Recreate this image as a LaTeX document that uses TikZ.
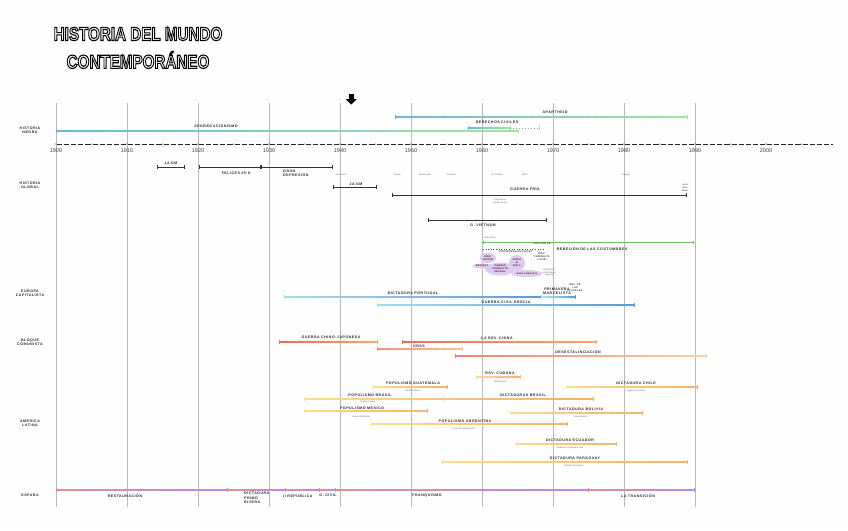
\documentclass[tikz,border=0pt]{standalone}
\usepackage{fontspec}
\setmainfont{Liberation Sans}
\newfontfamily\labfont{Liberation Sans}[LetterSpace=14]
\usetikzlibrary{arrows.meta,shapes.geometric}
\definecolor{nblue}{HTML}{6BB7D9}
\definecolor{ngreen}{HTML}{A6E3A1}
\definecolor{ecyan}{HTML}{A6DDEA}
\definecolor{eblue}{HTML}{5B9BD5}
\definecolor{cred}{HTML}{EE6B5E}
\definecolor{corange}{HTML}{F5A96B}
\definecolor{lyellow}{HTML}{FDDC8E}
\definecolor{lorange}{HTML}{F5B26B}
\definecolor{spink}{HTML}{F08A8A}
\definecolor{spurple}{HTML}{B08CF2}
\definecolor{lav}{HTML}{DCCDF0}
\definecolor{rgreen}{HTML}{6DBE5A}
\newcommand\tlbar[5]{%
  \shade[left color=#4,right color=#5] (#1,#3-0.55) rectangle (#2,#3+0.55);
  \fill[#4] (#1-0.35,#3-1.8) rectangle (#1+0.35,#3+1.8);
  \fill[#5] (#2-0.35,#3-1.8) rectangle (#2+0.35,#3+1.8);}
\newcommand\outlinetext[1]{\special{pdf:literal direct 1 Tr 1.1 w}#1\special{pdf:literal direct 0 Tr}}
\tikzset{
  lab/.style={font=\labfont\bfseries\fontsize{3.6}{4.4}\selectfont, inner sep=0pt, align=center, text=black!85},
  tiny/.style={font=\fontsize{2.3}{2.9}\selectfont, inner sep=0pt, text=black!60, align=center},
  tinyb/.style={font=\labfont\bfseries\fontsize{2.4}{2.9}\selectfont, inner sep=0pt, text=black!80, align=center},
  yr/.style={font=\fontsize{5.5}{6}\selectfont, inner sep=0pt, text=black!75},
  gl/.style={black!80, line width=0.7pt, {Bar[width=3.5pt,line width=0.7pt]}-{Bar[width=3.5pt,line width=0.7pt]}},
  bub/.style={ellipse, fill=lav, inner sep=0.6pt, font=\labfont\bfseries\fontsize{2.4}{2.9}\selectfont, text=purple!45!black, align=center},
  ttl/.style={font=\bfseries\fontsize{19}{20}\selectfont, inner sep=0pt, text=black},
  vline/.style={gray!55, line width=0.8pt}
}
\begin{document}
\begin{tikzpicture}[x=1pt,y=-1pt]
\useasboundingbox (0,0) rectangle (848,530);
\fill[white] (0,0) rectangle (848,530);
% dotted background
\foreach \yy in {3,11,...,531}
  \draw[gray!22, line width=0.5pt, dash pattern=on 0.5pt off 7.5pt] (3,\yy) -- (848,\yy);

% title
\node[ttl] (t1) at (138,34) {\outlinetext{\scalebox{0.8}[1]{HISTORIA DEL MUNDO}}};
\node[ttl] (t2) at (138,60) {\outlinetext{\scalebox{0.8}[1]{CONTEMPORÁNEO}}};

% down arrow
\fill[black] (349,94) rectangle (353.5,99.5);
\fill[black] (345.5,99) -- (357,99) -- (351.25,104.5) -- cycle;

% vertical decade lines
\foreach \k in {0,...,9}
  \draw[vline] (56+71*\k,103) -- (56+71*\k,507);

% axis
\draw[black!85, line width=0.9pt, dash pattern=on 5.1pt off 2pt, dash phase=-1pt] (56,144) -- (833,144);
\foreach \k in {0,...,10} \fill[red!70] (56+71*\k,144) circle[radius=0.9pt];
\foreach \k in {0,...,10} \fill[orange!70] (91.5+71*\k,144) circle[radius=0.9pt];
\foreach \k/\l in {0/1900,1/1910,2/1920,3/1930,4/1940,5/1950,6/1960,7/1970,8/1980,9/1990,10/2000}
  \node[yr] (y\l) at (56+71*\k,151) {\l};

% row labels
\node[lab] (r1) at (30,130) {HISTORIA\\NEGRA};
\node[lab] (r2) at (30,185) {HISTORIA\\GLOBAL};
\node[lab] (r3) at (30,293) {EUROPA\\CAPITALISTA};
\node[lab] (r4) at (30,342) {BLOQUE\\COMUNISTA};
\node[lab] (r5) at (30,423.5) {AMERICA\\LATINA};
\node[lab] (r6) at (30,495) {ESPAÑA};

% historia negra
\tlbar{56}{518}{131}{nblue}{ngreen}
\node[lab] (seg) at (216,126) {SEGREGACIONISMO};
\tlbar{395}{687}{117}{nblue}{ngreen}
\node[lab] (apa) at (555,112) {APARTHEID};
\tlbar{468}{510}{128}{nblue}{ngreen}
\draw[ngreen!80!black, line width=1pt, dotted] (510,128) -- (539,128);
\fill[ngreen] (538.7,126.2) rectangle (539.3,129.8);
\node[lab] (dc) at (497,122) {DERECHOS CIVILES};

% historia global
\draw[gl] (157,167) -- (185,167);
\node[lab] (g1) at (171,163) {1A GM};
\draw[gl] (199,167) -- (261,167);
\draw[gl] (261,167) -- (333,167);
\node[lab] (g2) at (236,173) {FELICES 20'S};
\node[lab, anchor=west, align=left] (g3) at (283,173.5) {GRAN\\DEPRESIÓN};
\draw[gl] (333,187) -- (377,187);
\node[lab] (g4) at (356,184) {2A GM};
\draw[gl] (392,195) -- (687,195);
\node[lab] (g5) at (525,189) {GUERRA FRÍA};
\draw[gl] (428,220) -- (547,220);
\node[lab] (g6) at (483,225) {G. VIETNAM};
\foreach \xx/\tt in {341/Roosevelt,397/Truman,425/Eisenhower,451/Jruschov,497/B. Johnson,525/Nixon,626/Reagan}
  \node[tiny] at (\xx,175) {\tt};
\node[tiny] (cm) at (500,201) {Crisis de los\\misiles Cuba};
\node[tiny, text=black!80] (cb) at (685,188) {caída\\muro\\Berlín};

% rebelión de las costumbres
\draw[rgreen, line width=0.8pt, {Bar[width=3pt]}-{Bar[width=3pt]}] (483,242) -- (694,242);
\node[tiny] (bb) at (490,238) {Baby boom};
\draw[black!70, line width=0.6pt, dotted] (483,249) -- (545,249);
\node[tinyb] (m68) at (542,244) {MAYO DE 68};
\node[tinyb] (pp) at (516,251.5) {PRIMAVERA DE PRAGA};
\node[lab] (rc) at (592,249) {REBELIÓN DE LAS COSTUMBRES};
\node[tinyb] (mf) at (542,256.5) {MOV.\\FEMINISTA\\LGTBI};
\node[bub, minimum width=10pt, minimum height=5pt] (b0) at (482,266) {DROGAS};
\node[bub, minimum width=16pt, minimum height=10pt] (b1) at (488,258) {MOV.\\HIPPIE};
\node[bub, minimum width=16pt, minimum height=16pt] (b3) at (517,263) {ROCK\\N\\ROLL};
\node[bub, minimum width=30pt, minimum height=13pt] (b2) at (500,269) {CAMBIO\\CONDUCTA\\SEXUAL};
\node[bub, minimum width=20pt, minimum height=7pt, font=\labfont\bfseries\fontsize{2}{2.4}\selectfont] (b4) at (527,273.5) {MODA FEMINISTA};
\node[tiny] (wd) at (549,272.5) {Woodstock\\contracultura\\mayo 68};

% europa capitalista
\tlbar{284}{541}{297}{ecyan}{eblue}
\tlbar{541}{575}{297}{ecyan!80}{eblue}
\node[lab] (dp) at (413,293) {DICTADURA PORTUGAL};
\tlbar{377}{634}{305}{ecyan}{eblue}
\node[lab] (gg) at (506,302) {GUERRA CIVIL GRECIA};
\node[lab] (pm) at (557,291.5) {PRIMAVERA\\MARCELISTA};
\node[tinyb] (rcl) at (575,288) {REV. DE\\LOS\\CLAVELES};

% bloque comunista
\tlbar{279}{377}{342}{cred}{corange}
\node[lab] (cj) at (331,337) {GUERRA CHINO-JAPONESA};
\tlbar{402}{596}{342}{cred}{corange}
\node[lab] (rch) at (497,338) {LA REV. CHINA};
\tlbar{377}{462}{349}{cred!75}{corange!70}
\node[lab] (urss) at (419,346) {URSS};
\tlbar{455}{706}{356}{cred!85}{corange!55}
\node[lab] (des) at (578,352) {DESESTALINIZACIÓN};

% america latina
\tlbar{476}{520}{377}{lyellow}{lorange}
\node[lab] (l1) at (500,373) {REV. CUBANA};
\node[tiny] at (500,382) {Fidel Castro};
\tlbar{373}{447}{387}{lyellow}{lorange}
\node[lab] (l2) at (413,383) {POPULISMO GUATEMALA};
\node[tiny] at (413,391) {Jacobo Árbenz};
\tlbar{566}{697}{387}{lyellow}{lorange}
\node[lab] (l3) at (636,383) {DICTADURA CHILE};
\node[tiny] at (636,391) {Augusto Pinochet};
\tlbar{304}{443}{399}{lyellow}{lorange!80}
\tlbar{443}{593}{399}{lorange!80}{lorange}
\node[lab] (l4) at (370,395) {POPULISMO BRASIL};
\node[tiny] at (368,402) {Getúlio Vargas};
\node[lab] (l5) at (523,395) {DICTADURAS BRASIL};
\tlbar{304}{427}{411}{lyellow}{lorange}
\node[lab] (l6) at (362,408) {POPULISMO MEXICO};
\node[tiny] at (361,417) {Lázaro Cárdenas};
\tlbar{510}{642}{413}{lyellow}{lorange}
\node[lab] (l7) at (581,409) {DICTADURA BOLIVIA};
\node[tiny] at (581,417) {Hugo Banzer};
\tlbar{371}{567}{424}{lyellow}{lorange}
\node[lab] (l8) at (465,421) {POPULISMO ARGENTINA};
\node[tiny] at (464,429) {Juan Domingo Perón};
\tlbar{516}{616}{444}{lyellow}{lorange}
\node[lab] (l9) at (570,440) {DICTADURA ECUADOR};
\node[tiny] at (570,448) {Guillermo Rodríguez Lara};
\tlbar{442}{687}{462}{lyellow}{lorange}
\node[lab] (l10) at (575,458) {DICTADURA PARAGUAY};
\node[tiny] at (574,466) {Alfredo Stroessner};

% españa
\tlbar{56}{227}{490}{spink}{spurple}
\tlbar{227}{285}{490}{spink}{spurple}
\tlbar{285}{319}{490}{spink}{spurple}
\tlbar{319}{335}{490}{spink}{spurple}
\tlbar{335}{588}{490}{spink}{spurple}
\tlbar{588}{694}{490}{spink}{spurple}
\node[lab] (e1) at (125,496) {RESTAURACIÓN};
\node[lab, anchor=west, align=left] (e2) at (244,498) {DICTADURA\\PRIMO\\RIVERA};
\node[lab] (e3) at (298,495.5) {II REPÚBLICA};
\node[lab] (e4) at (328,495.5) {G. CIVIL};
\node[lab] (e5) at (427,496) {FRANQUISMO};
\node[lab] (e6) at (638,496) {LA TRANSICIÓN};
\end{tikzpicture}
\end{document}
